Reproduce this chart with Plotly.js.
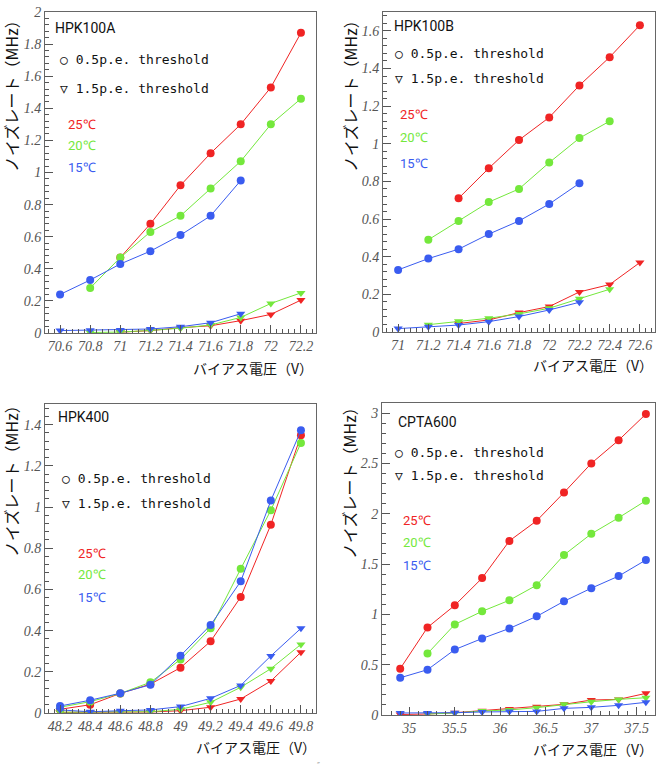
<!DOCTYPE html>
<html><head><meta charset="utf-8">
<script src="https://cdn.plot.ly/plotly-3.0.1.min.js"></script>
<style>body{margin:0;background:#fff}#c{width:661px;height:779px}</style>
</head><body><div id="c"></div>
<script>
// ---- HPK100A ----
const hpk100a_x   = [70.6, 70.8, 71.0, 71.2, 71.4, 71.6, 71.8, 72.0, 72.2];
const hpk100a_r05 = [null, null, 0.47, 0.68, 0.92, 1.12, 1.30, 1.53, 1.87];
const hpk100a_g05 = [null, 0.28, 0.47, 0.63, 0.73, 0.90, 1.07, 1.30, 1.46];
const hpk100a_b05 = [0.24, 0.33, 0.43, 0.51, 0.61, 0.73, 0.95, null, null];
const hpk100a_r15 = [null, null, 0.005, 0.015, 0.033, 0.045, 0.077, 0.116, 0.205];
const hpk100a_g15 = [null, 0.003, 0.006, 0.016, 0.03, 0.05, 0.097, 0.184, 0.25];
const hpk100a_b15 = [0.015, 0.017, 0.019, 0.025, 0.039, 0.064, 0.12, null, null];
// ---- HPK100B ----
const hpk100b_x   = [71.0, 71.2, 71.4, 71.6, 71.8, 72.0, 72.2, 72.4, 72.6];
const hpk100b_r05 = [null, null, 0.71, 0.87, 1.02, 1.14, 1.31, 1.46, 1.63];
const hpk100b_g05 = [null, 0.49, 0.59, 0.69, 0.76, 0.90, 1.03, 1.12, null];
const hpk100b_b05 = [0.33, 0.39, 0.44, 0.52, 0.59, 0.68, 0.79, null, null];
const hpk100b_r15 = [null, null, 0.045, 0.064, 0.103, 0.135, 0.213, 0.252, 0.369];
const hpk100b_g15 = [null, 0.039, 0.057, 0.073, 0.096, 0.126, 0.177, 0.227, null];
const hpk100b_b15 = [0.018, 0.028, 0.037, 0.055, 0.082, 0.117, 0.158, null, null];
// ---- HPK400 ----
const hpk400_x   = [48.2, 48.4, 48.6, 48.8, 49.0, 49.2, 49.4, 49.6, 49.8];
const hpk400_r05 = [0.018, 0.04, 0.095, 0.14, 0.22, 0.348, 0.563, 0.914, 1.348];
const hpk400_g05 = [0.028, 0.055, 0.095, 0.149, 0.26, 0.411, 0.70, 0.984, 1.311];
const hpk400_b05 = [0.034, 0.062, 0.096, 0.137, 0.278, 0.427, 0.639, 1.031, 1.372];
const hpk400_r15 = [0.003, 0.003, 0.004, 0.005, 0.011, 0.028, 0.068, 0.155, 0.295];
const hpk400_g15 = [0.004, 0.004, 0.005, 0.006, 0.018, 0.052, 0.125, 0.215, 0.333];
const hpk400_b15 = [0.015, 0.006, 0.011, 0.015, 0.031, 0.071, 0.134, 0.277, 0.411];
// ---- CPTA600 ----
const cpta600_x   = [34.9, 35.2, 35.5, 35.8, 36.1, 36.4, 36.7, 37.0, 37.3, 37.6];
const cpta600_r05 = [0.46, 0.87, 1.09, 1.36, 1.73, 1.93, 2.21, 2.50, 2.73, 2.99];
const cpta600_g05 = [null, 0.61, 0.90, 1.03, 1.14, 1.29, 1.59, 1.80, 1.96, 2.13];
const cpta600_b05 = [0.37, 0.45, 0.65, 0.76, 0.86, 0.98, 1.13, 1.26, 1.38, 1.54];
const cpta600_r15 = [0.005, 0.01, 0.023, 0.043, 0.06, 0.083, 0.106, 0.149, 0.155, 0.215];
const cpta600_g15 = [null, 0.01, 0.02, 0.04, 0.05, 0.073, 0.106, 0.132, 0.155, 0.172];
const cpta600_b15 = [0.02, 0.02, 0.023, 0.03, 0.036, 0.036, 0.066, 0.076, 0.096, 0.126];

const panelNames = ["HPK100A", "HPK100B", "HPK400", "CPTA600"];
const tempLabels = ["25℃", "20℃", "15℃"];
const legendLines = ["○ 0.5p.e. threshold", "▽ 1.5p.e. threshold"];
const yTitle = "ノイズレート（MHz）";
const xTitle = "バイアス電圧（V）";

const W = 661, H = 779;
const RED = '#f02424', GREEN = '#74e83c', BLUE = '#3a5cf0';
const cols = [RED, GREEN, BLUE];

const panels = [
  {x: hpk100a_x, s05: [hpk100a_r05, hpk100a_g05, hpk100a_b05], s15: [hpk100a_r15, hpk100a_g15, hpk100a_b15],
   box: [45, 316, 12, 333], xr: [70.5, 72.3], xd: 0.2, xm: 0.04, yr: [0, 2], yd: 0.2, ym: 0.04},
  {x: hpk100b_x, s05: [hpk100b_r05, hpk100b_g05, hpk100b_b05], s15: [hpk100b_r15, hpk100b_g15, hpk100b_b15],
   box: [383, 655, 12, 332], xr: [70.9, 72.7], xd: 0.2, xm: 0.04, yr: [0, 1.7], yd: 0.2, ym: 0.04},
  {x: hpk400_x, s05: [hpk400_r05, hpk400_g05, hpk400_b05], s15: [hpk400_r15, hpk400_g15, hpk400_b15],
   box: [45, 316, 404, 713], xr: [48.1, 49.9], xd: 0.2, xm: 0.04, yr: [0, 1.5], yd: 0.2, ym: 0.04},
  {x: cpta600_x, s05: [cpta600_r05, cpta600_g05, cpta600_b05], s15: [cpta600_r15, cpta600_g15, cpta600_b15],
   box: [382, 655, 403, 715], xr: [34.7, 37.7], xd: 0.5, xm: 0.1, yr: [0, 3.1], yd: 0.5, ym: 0.1}
];

const traces = [];
const layout = {
  width: W, height: H, margin: {l: 0, r: 0, t: 0, b: 0},
  paper_bgcolor: '#fff', plot_bgcolor: '#fff', showlegend: false,
  annotations: []
};
const tickFont = {family: '"Liberation Serif", "DejaVu Serif", serif', style: 'italic', size: 14, color: '#555'};

function ann(text, px, py, opts) {
  layout.annotations.push(Object.assign({
    text: text, xref: 'paper', yref: 'paper', x: px / W, y: 1 - py / H,
    xanchor: 'left', yanchor: 'middle', showarrow: false
  }, opts));
}

const txt = [
  {n: [53, 28], lx: 58, ly: [60, 88], tx: 66, ty: [124, 146, 168], yt: [11, 92], xt: [315, 368]},
  {n: [392, 26], lx: 393, ly: [54, 79], tx: 398, ty: [115, 137, 163], yt: [350, 92], xt: [655, 365]},
  {n: [56, 417], lx: 60, ly: [479, 503], tx: 76, ty: [553, 574, 597], yt: [11, 477], xt: [318, 747]},
  {n: [396, 422], lx: 393, ly: [453, 475], tx: 401, ty: [520, 542, 565], yt: [349, 479], xt: [655, 749]}
];

panels.forEach((p, i) => {
  const k = i === 0 ? '' : String(i + 1);
  const xa = 'x' + k, ya = 'y' + k;
  const [l, r, t, b] = p.box;
  const common = {
    showline: true, mirror: true, linecolor: '#666', linewidth: 1,
    ticks: 'inside', ticklen: 8, tickcolor: '#555', tickwidth: 1,
    showgrid: false, zeroline: false, tickfont: tickFont
  };
  layout['xaxis' + k] = Object.assign({}, common, {
    domain: [l / W, r / W], anchor: ya, range: p.xr, dtick: p.xd, tick0: 0,
    minor: {ticks: 'inside', ticklen: 4, dtick: p.xm, tick0: 0, tickcolor: '#555', showgrid: false}
  });
  layout['yaxis' + k] = Object.assign({}, common, {
    domain: [1 - b / H, 1 - t / H], anchor: xa, range: p.yr, dtick: p.yd, tick0: 0,
    minor: {ticks: 'inside', ticklen: 4, dtick: p.ym, tick0: 0, tickcolor: '#555', showgrid: false}
  });
  p.s05.forEach((s, j) => traces.push({
    x: p.x, y: s, xaxis: xa, yaxis: ya, type: 'scatter', mode: 'lines+markers',
    line: {color: cols[j], width: 1}, marker: {symbol: 'circle', size: 8, color: cols[j]}
  }));
  p.s15.forEach((s, j) => traces.push({
    x: p.x, y: s, xaxis: xa, yaxis: ya, type: 'scatter', mode: 'lines+markers',
    line: {color: cols[j], width: 1}, marker: {symbol: 'triangle-down', size: 8, color: cols[j]}
  }));
  const T = txt[i];
  ann(panelNames[i], T.n[0], T.n[1], {font: {family: 'Roboto', size: 14, color: '#111'}});
  legendLines.forEach((s, j) => ann(s, T.lx, T.ly[j], {font: {family: 'DejaVu Sans Mono', size: 13, color: '#111'}}));
  tempLabels.forEach((s, j) => ann(s, T.tx, T.ty[j], {font: {family: 'Roboto', size: 13, color: cols[j]}}));
  ann(yTitle, T.yt[0], T.yt[1], {xanchor: 'center', textangle: -90,
      font: {family: 'Noto Sans CJK JP', size: 16, color: '#111'}});
  ann(xTitle, T.xt[0], T.xt[1], {xanchor: 'right',
      font: {family: 'Noto Sans CJK JP', size: 14, color: '#111'}});
});
ann('″', 318, 766, {xanchor: 'center', font: {family: 'DejaVu Sans', size: 8, color: '#999'}});

Plotly.newPlot('c', traces, layout, {staticPlot: true, displayModeBar: false});
</script></body></html>
